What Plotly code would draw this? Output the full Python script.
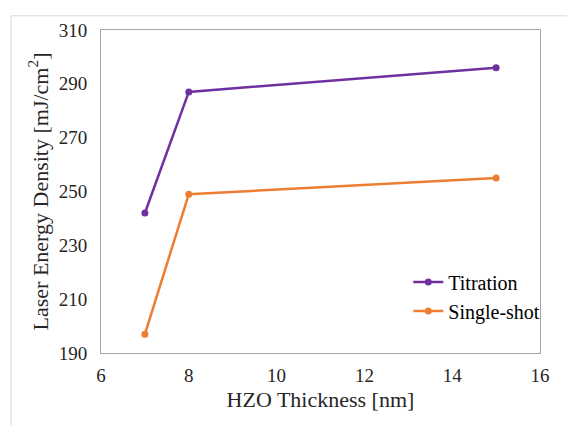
import plotly.graph_objects as go

thickness = [7, 8, 15]
titration = [242, 287, 296]
single_shot = [197, 249, 255]

x_ticks = [6, 8, 10, 12, 14, 16]
y_ticks = [190, 210, 230, 250, 270, 290, 310]

PURPLE = "#7030A0"
ORANGE = "#ED7D31"
FONT = "'Times New Roman', 'Liberation Serif', serif"

fig = go.Figure()
fig.add_trace(go.Scatter(x=thickness, y=titration, mode="lines+markers", name="Titration",
                         line=dict(color=PURPLE, width=2.5), marker=dict(size=7, color=PURPLE)))
fig.add_trace(go.Scatter(x=thickness, y=single_shot, mode="lines+markers", name="Single-shot",
                         line=dict(color=ORANGE, width=2.5), marker=dict(size=7, color=ORANGE)))

# page body adds an 8px offset
L, R, T, B = 93, 35, 15, 74
W, H = 567, 419
pw, ph = W - L - R, H - T - B

fig.update_layout(
    width=W, height=H,
    margin=dict(l=L, r=R, t=T, b=B),
    paper_bgcolor="white", plot_bgcolor="white",
    font=dict(family=FONT, size=19, color="#262626"),
    showlegend=True,
    legend=dict(x=0.70, y=0.28, xanchor="left", yanchor="top",
                bgcolor="rgba(0,0,0,0)", font=dict(family=FONT, size=20, color="#000000"),
                tracegroupgap=0, itemwidth=30),
    xaxis=dict(range=[6, 16], tickvals=x_ticks, showgrid=False, zeroline=False,
               showline=True, linecolor="#a6a6a6", linewidth=1, mirror=True,
               ticks="", ticklabelstandoff=5, tickfont=dict(family=FONT, size=19, color="#262626"),
               title=dict(text="HZO Thickness [nm]", font=dict(family=FONT, size=22, color="#262626"), standoff=6)),
    yaxis=dict(range=[190, 310], tickvals=y_ticks, showgrid=False, zeroline=False,
               showline=True, linecolor="#a6a6a6", linewidth=1, mirror=True,
               ticks="", ticklabelstandoff=9, tickfont=dict(family=FONT, size=19, color="#262626"),
               title=dict(text="Laser Energy Density [mJ/cm<sup>2</sup>]", font=dict(family=FONT, size=22, color="#262626"), standoff=4)),
)

# light outer frame of the picture
x_left = (3 - L) / pw
y_top = 1 + (T - 0.5) / ph
fig.add_shape(type="line", xref="paper", yref="paper", x0=x_left, x1=(W - L) / pw, y0=y_top, y1=y_top,
              line=dict(color="#d9d9d9", width=1))
fig.add_shape(type="line", xref="paper", yref="paper", x0=x_left, x1=x_left, y0=y_top, y1=-(B) / ph,
              line=dict(color="#d9d9d9", width=1))

fig.write_html("out.html")
